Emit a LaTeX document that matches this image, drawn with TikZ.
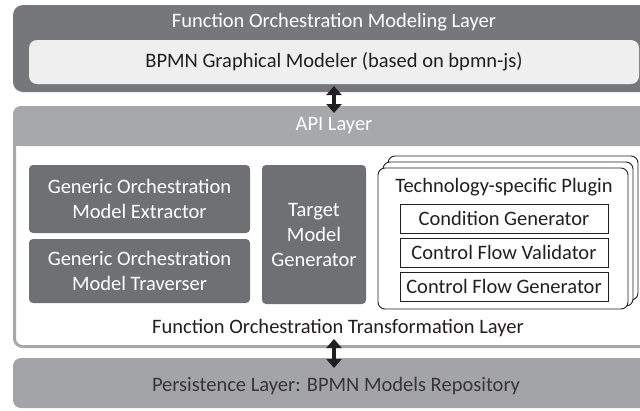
\documentclass[tikz,border=0pt]{standalone}
\usepackage{fontspec}
\setmainfont{Carlito}
\usetikzlibrary{arrows.meta}
\definecolor{layerdark}{HTML}{76777A}
\definecolor{layerlight}{HTML}{EFEFF0}
\definecolor{layermid}{HTML}{A7A8AB}
\definecolor{boxdark}{HTML}{6F7073}
\definecolor{persist}{HTML}{A3A4A7}
\definecolor{ink}{HTML}{231F20}
\begin{document}
\begin{tikzpicture}[x=1pt,y=-1pt,
  txt/.style={font=\fontsize{20.5}{25}\selectfont, inner sep=0pt, align=center},
  area/.style={anchor=north west, inner sep=0pt, outer sep=0pt},
  darkbox/.style={area, fill=boxdark, rounded corners=4pt, text=white, font=\fontsize{20.5}{25}\selectfont, align=center},
  plugsheet/.style={area, draw=ink, line width=0.9pt, fill=white, rounded corners=7pt},
  plugitem/.style={area, draw=ink, line width=0.8pt, fill=white},
  biarrow/.style={draw=ink, line width=4.5pt, {Triangle[width=15pt,length=9pt]}-{Triangle[width=15pt,length=9pt]}, shorten <=-1pt, shorten >=-1pt}
]
\useasboundingbox (0,0) rectangle (640,410);
\clip (0,0) rectangle (640,410);
\fill[white] (0,0) rectangle (640,410);

% Modeling layer
\node[area, fill=layerdark, rounded corners=10pt, minimum width=650pt, minimum height=87pt] (model) at (13,5) {};
\node[txt, text=white] (modelT) at (334,22) {Function Orchestration Modeling Layer};
\node[area, fill=layerlight, rounded corners=8pt, minimum width=610pt, minimum height=44pt] (bpmn) at (29,40) {};
\node[txt, text=ink] (bpmnT) at (bpmn.center) {BPMN Graphical Modeler (based on bpmn-js)};

% API / transformation layer
\node[area, draw=layermid, line width=3pt, rounded corners=8pt, minimum width=660pt, minimum height=239pt] (api) at (14.5,107.5) {};
\fill[layermid, rounded corners=8pt] (13,106) -- (13,146) -- (660,146) -- (660,106) -- cycle;
\fill[layermid] (13,120) rectangle (660,146);
\node[txt, text=white] (apiT) at (334,126) {API Layer};

\node[darkbox, minimum width=221pt, minimum height=68pt] (extr) at (29,165) {Generic Orchestration\\Model Extractor};
\node[darkbox, minimum width=221pt, minimum height=64pt] (trav) at (29,239) {Generic Orchestration\\Model Traverser};
\node[darkbox, minimum width=104pt, minimum height=139pt] (target) at (262,165) {Target\\Model\\Generator};

\node[plugsheet, minimum width=250pt, minimum height=144pt] (plugC) at (388,156) {};
\node[plugsheet, minimum width=250pt, minimum height=144pt] (plugB) at (383,162) {};
\node[plugsheet, minimum width=250pt, minimum height=141pt] (plugA) at (378,168) {};
\node[txt, text=ink] (plugT) at (504,187) {Technology-specific Plugin};
\node[plugitem, minimum width=208pt, minimum height=29pt] (cond) at (400,204) {};
\node[txt, text=ink] at (cond.center) {Condition Generator};
\node[plugitem, minimum width=208pt, minimum height=29pt] (valid) at (400,238) {};
\node[txt, text=ink] at (valid.center) {Control Flow Validator};
\node[plugitem, minimum width=208pt, minimum height=29pt] (gen) at (400,272) {};
\node[txt, text=ink] at (gen.center) {Control Flow Generator};

\node[txt, text=ink] (transT) at (338,328) {Function Orchestration Transformation Layer};

% Persistence layer
\node[area, fill=persist, rounded corners=8pt, minimum width=650pt, minimum height=50pt] (pers) at (13,358) {};
\node[txt, text=ink!90] (persT) at (336,386) {Persistence Layer: BPMN Models Repository};

% connectors
\coordinate (a1) at (334,87);
\coordinate (a2) at (334,112);
\draw[biarrow] (a1) -- (a2);
\coordinate (b1) at (334,340);
\coordinate (b2) at (334,367);
\draw[biarrow] (b1) -- (b2);
\end{tikzpicture}
\end{document}
